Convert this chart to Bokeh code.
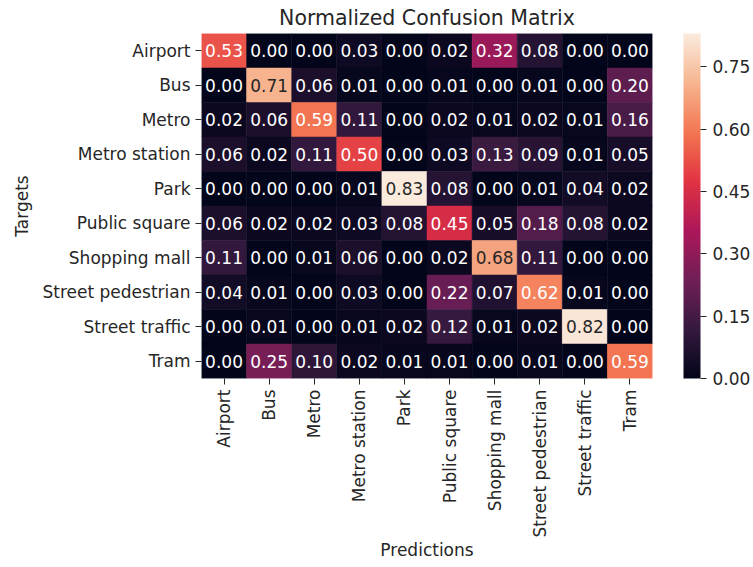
import math
from bokeh.plotting import figure
from bokeh.models import ColumnDataSource, FactorRange, LinearColorMapper, ColorBar, FixedTicker, PrintfTickFormatter
from bokeh.core.properties import value
from bokeh.embed import file_html
from bokeh.resources import INLINE

categories = ["Airport", "Bus", "Metro", "Metro station", "Park", "Public square",
              "Shopping mall", "Street pedestrian", "Street traffic", "Tram"]

row_airport = [0.53, 0.00, 0.00, 0.03, 0.00, 0.02, 0.32, 0.08, 0.00, 0.00]
row_bus = [0.00, 0.71, 0.06, 0.01, 0.00, 0.01, 0.00, 0.01, 0.00, 0.20]
row_metro = [0.02, 0.06, 0.59, 0.11, 0.00, 0.02, 0.01, 0.02, 0.01, 0.16]
row_metro_station = [0.06, 0.02, 0.11, 0.50, 0.00, 0.03, 0.13, 0.09, 0.01, 0.05]
row_park = [0.00, 0.00, 0.00, 0.01, 0.83, 0.08, 0.00, 0.01, 0.04, 0.02]
row_public_square = [0.06, 0.02, 0.02, 0.03, 0.08, 0.45, 0.05, 0.18, 0.08, 0.02]
row_shopping_mall = [0.11, 0.00, 0.01, 0.06, 0.00, 0.02, 0.68, 0.11, 0.00, 0.00]
row_street_pedestrian = [0.04, 0.01, 0.00, 0.03, 0.00, 0.22, 0.07, 0.62, 0.01, 0.00]
row_street_traffic = [0.00, 0.01, 0.00, 0.01, 0.02, 0.12, 0.01, 0.02, 0.82, 0.00]
row_tram = [0.00, 0.25, 0.10, 0.02, 0.01, 0.01, 0.00, 0.01, 0.00, 0.59]

rows = [row_airport, row_bus, row_metro, row_metro_station, row_park, row_public_square,
        row_shopping_mall, row_street_pedestrian, row_street_traffic, row_tram]

colorbar_ticks = [0.00, 0.15, 0.30, 0.45, 0.60, 0.75]

# rocket-like colormap stops
stops = ["#03051a", "#35193e", "#701f57", "#ad1759", "#e13342", "#f37651", "#f6b48f", "#faebdd"]

FONT = "DejaVu Sans"
FS = "17px"
TXT = "#262626"


def hex2rgb(h):
    h = h.lstrip("#")
    return tuple(int(h[i:i + 2], 16) for i in (0, 2, 4))


def build_palette(n=256):
    rgbs = [hex2rgb(s) for s in stops]
    k = len(rgbs) - 1
    pal = []
    for i in range(n):
        t = i / (n - 1) * k
        j = min(int(t), k - 1)
        f = t - j
        c = [round(rgbs[j][m] + (rgbs[j + 1][m] - rgbs[j][m]) * f) for m in range(3)]
        pal.append("#%02x%02x%02x" % tuple(c))
    return pal


palette = build_palette()
vmin = 0.0
vmax = max(max(r) for r in rows)


def lum(h):
    r, g, b = [c / 255 for c in hex2rgb(h)]
    def ch(c):
        return c / 12.92 if c <= 0.03928 else ((c + 0.055) / 1.055) ** 2.4
    return 0.2126 * ch(r) + 0.7152 * ch(g) + 0.0722 * ch(b)


xs, ys, vals, fills, labels, tcolors = [], [], [], [], [], []
for i, target in enumerate(categories):
    for j, pred in enumerate(categories):
        v = rows[i][j]
        idx = int(round((v - vmin) / (vmax - vmin) * 255))
        c = palette[max(0, min(255, idx))]
        xs.append(pred)
        ys.append(target)
        vals.append(v)
        fills.append(c)
        labels.append("%.2f" % v)
        tcolors.append(TXT if lum(c) > 0.408 else "#ffffff")

src = ColumnDataSource(dict(x=xs, y=ys, v=vals, fill=fills, label=labels, tc=tcolors))

p = figure(width=753, height=567, output_backend="svg", toolbar_location=None,
           x_range=FactorRange(factors=categories, range_padding=0),
           y_range=FactorRange(factors=list(reversed(categories)), range_padding=0),
           title="Normalized Confusion Matrix",
           min_border_left=201, min_border_right=96, min_border_top=33, min_border_bottom=189)

p.rect(x="x", y="y", width=1, height=1, source=src, fill_color="fill", line_color="fill", line_width=0.5)
p.text(x="x", y="y", text="label", source=src, text_color="tc", text_align="center",
       text_baseline="middle", text_font=value(FONT), text_font_size=FS)

p.title.align = "center"
p.title.text_font = FONT
p.title.text_font_size = "20.5px"
p.title.text_font_style = "normal"
p.title.text_color = TXT
p.title.offset = 0
p.title.standoff = 7

for ax in (p.xaxis[0], p.yaxis[0]):
    ax.axis_line_color = None
    ax.major_tick_in = 0
    ax.major_tick_out = 6
    ax.major_tick_line_color = TXT
    ax.minor_tick_line_color = None
    ax.major_label_text_font = FONT
    ax.major_label_text_font_size = FS
    ax.major_label_text_color = TXT
    ax.major_label_standoff = 5
    ax.axis_label_text_font = FONT
    ax.axis_label_text_font_size = FS
    ax.axis_label_text_font_style = "normal"
    ax.axis_label_text_color = TXT
    ax.axis_label_standoff = 8

p.xaxis.axis_label = "Predictions"
p.yaxis.axis_label = "Targets"
p.xaxis.major_label_orientation = math.pi / 2
p.xaxis.major_label_standoff = 5
p.xaxis.axis_label_standoff = 0
p.xgrid.grid_line_color = None
p.ygrid.grid_line_color = None
p.outline_line_color = None

mapper = LinearColorMapper(palette=palette, low=vmin, high=vmax)
cb = ColorBar(color_mapper=mapper, ticker=FixedTicker(ticks=colorbar_ticks),
              formatter=PrintfTickFormatter(format="%.2f"),
              width=17, height=345, padding=0, location=(31, 0),
              major_tick_in=0, major_tick_out=6, major_tick_line_color=TXT,
              minor_tick_line_color=None, bar_line_color=None, border_line_color=None,
              background_fill_color=None,
              major_label_text_font=FONT, major_label_text_font_size=FS,
              major_label_text_color=TXT, label_standoff=6)
p.add_layout(cb, "right")

open("out.html", "w").write(file_html(p, INLINE))
